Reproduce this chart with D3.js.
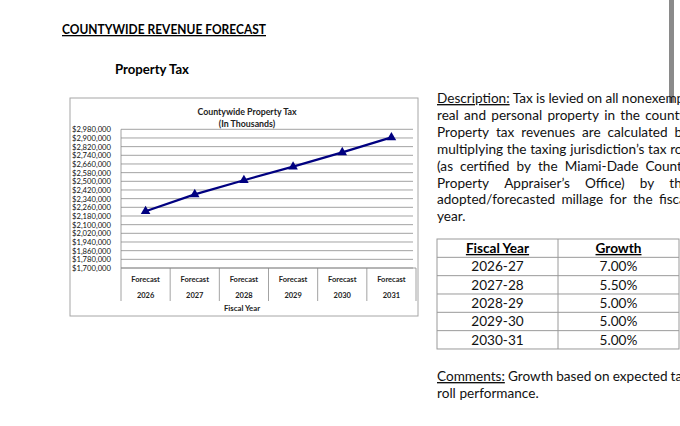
<!DOCTYPE html>
<html lang="en">
<head>
<meta charset="UTF-8">
<title>Countywide Revenue Forecast</title>
<script src="https://d3js.org/d3.v7.min.js"></script>
<style>
    html, body { margin: 0; padding: 0; background: #fff; overflow: hidden; }
    svg { display: block; font-family: Lato, 'Open Sans', sans-serif; }
</style>
</head>
<body>
<svg id="page" width="680" height="426"></svg>
<script>
    // chart data
    const categories = ["2026", "2027", "2028", "2029", "2030", "2031"];
    const categoryPrefix = "Forecast";
    const propertyTax = [2223000, 2379000, 2510000, 2635000, 2767000, 2905000];
    const yTicks = [1700000, 1780000, 1860000, 1940000, 2020000, 2100000, 2180000, 2260000,
                    2340000, 2420000, 2500000, 2580000, 2660000, 2740000, 2820000, 2900000, 2980000];

    // growth table
    const fiscalYears = ["2026-27", "2027-28", "2028-29", "2029-30", "2030-31"];
    const growthRates = ["7.00%", "5.50%", "5.00%", "5.00%", "5.00%"];

    // text blocks
    const descriptionLines = [
        "Description: Tax is levied on all nonexempt",
        "real and personal property in the county.",
        "Property tax revenues are calculated by",
        "multiplying the taxing jurisdiction\u2019s tax roll",
        "(as certified by the Miami-Dade County",
        "Property Appraiser\u2019s Office) by the",
        "adopted/forecasted millage for the fiscal",
        "year."
    ];
    const commentLines = ["Comments: Growth based on expected tax", "roll performance."];

    const svg = d3.select("#page");

    // page decorations
    svg.append("rect").attr("x", 669).attr("y", 0).attr("width", 5).attr("height", 103).attr("fill", "#8a8a8a");

    svg.append("text")
        .attr("x", 62).attr("y", 34)
        .attr("font-size", 13).attr("font-weight", "bold")
        .attr("text-decoration", "underline")
        .attr("textLength", 204).attr("lengthAdjust", "spacingAndGlyphs")
        .text("COUNTYWIDE REVENUE FORECAST");

    svg.append("text")
        .attr("x", 115).attr("y", 74)
        .attr("font-size", 13).attr("font-weight", "bold")
        .attr("textLength", 74).attr("lengthAdjust", "spacingAndGlyphs")
        .text("Property Tax");

    // ---- chart box ----
    const box = { x: 70, y: 98, w: 348, h: 218 };
    svg.append("rect")
        .attr("x", box.x).attr("y", box.y).attr("width", box.w).attr("height", box.h)
        .attr("fill", "#fff").attr("stroke", "#a6a6a6").attr("stroke-width", 1);

    const plot = { left: 121, right: 416, top: 129.3, bottom: 268 };

    const x = d3.scaleBand().domain(categories).range([plot.left, plot.right]);
    const y = d3.scaleLinear().domain([yTicks[0], yTicks[yTicks.length - 1]]).range([plot.bottom, plot.top]);

    // gridlines
    svg.append("g").selectAll("line")
        .data(yTicks)
        .enter().append("line")
        .attr("x1", plot.left).attr("x2", plot.right - 3)
        .attr("y1", d => y(d)).attr("y2", d => y(d))
        .attr("stroke", "#8c8c8c").attr("stroke-width", 0.8);

    // y axis line
    svg.append("line")
        .attr("x1", plot.left).attr("x2", plot.left)
        .attr("y1", plot.top).attr("y2", plot.bottom)
        .attr("stroke", "#8c8c8c").attr("stroke-width", 0.8);

    // y labels
    const fmt = d3.format("$,");
    svg.append("g").selectAll("text")
        .data(yTicks)
        .enter().append("text")
        .attr("x", 111).attr("y", d => y(d))
        .attr("text-anchor", "end").attr("dominant-baseline", "central")
        .attr("font-size", 8.2).attr("fill", "#111")
        .attr("textLength", 39).attr("lengthAdjust", "spacingAndGlyphs")
        .text(d => fmt(d));

    // category axis: boundary lines and labels
    const bounds = categories.map(d => x(d)).concat([plot.right]);
    svg.append("g").selectAll("line")
        .data(bounds)
        .enter().append("line")
        .attr("x1", d => d).attr("x2", d => d)
        .attr("y1", plot.bottom).attr("y2", 301)
        .attr("stroke", "#8c8c8c").attr("stroke-width", 0.8);
    svg.append("line")
        .attr("x1", plot.left).attr("x2", plot.right)
        .attr("y1", plot.bottom).attr("y2", plot.bottom)
        .attr("stroke", "#8c8c8c").attr("stroke-width", 0.8);

    const catG = svg.append("g").attr("font-size", 7.5).attr("font-weight", "bold").attr("text-anchor", "middle").attr("fill", "#222");
    catG.selectAll(".pre")
        .data(categories)
        .enter().append("text")
        .attr("x", d => x(d) + x.bandwidth() / 2).attr("y", 282)
        .text(categoryPrefix);
    catG.selectAll(".yr")
        .data(categories)
        .enter().append("text")
        .attr("x", d => x(d) + x.bandwidth() / 2).attr("y", 298)
        .text(d => d);

    svg.append("text")
        .attr("x", 242).attr("y", 311)
        .attr("text-anchor", "middle").attr("font-size", 7.8).attr("font-weight", "bold").attr("fill", "#222")
        .text("Fiscal Year");

    // chart title
    const titleG = svg.append("g").attr("font-size", 8.8).attr("font-weight", "bold").attr("text-anchor", "middle").attr("fill", "#222");
    titleG.append("text").attr("x", 247).attr("y", 115).text("Countywide Property Tax");
    titleG.append("text").attr("x", 247).attr("y", 127).text("(In Thousands)");

    // series line
    const pts = categories.map((c, i) => [x(c) + x.bandwidth() / 2, y(propertyTax[i])]);
    svg.append("path")
        .attr("d", d3.line()(pts))
        .attr("fill", "none").attr("stroke", "#000080").attr("stroke-width", 2.2);
    svg.append("g").selectAll("path")
        .data(pts)
        .enter().append("path")
        .attr("d", d3.symbol(d3.symbolTriangle, 40)())
        .attr("transform", d => `translate(${d[0]},${d[1]})`)
        .attr("fill", "#000080");

    // ---- justified text helper ----
    function justifiedBlock(lines, x0, width, baseline0, step, justifyLast, underlineFirst) {
        const g = svg.append("g").attr("font-size", 13.6).attr("fill", "#111");
        lines.forEach((line, li) => {
            const words = line.split(" ");
            const yb = baseline0 + li * step;
            const nodes = words.map((w, wi) => {
                const t = g.append("text").attr("y", yb).text(w);
                if (li === 0 && wi === 0 && underlineFirst) t.attr("text-decoration", "underline");
                return t;
            });
            const widths = nodes.map(n => n.node().getComputedTextLength());
            const total = d3.sum(widths);
            const justify = (li < lines.length - 1 || justifyLast) && words.length > 1;
            const space = 3.6;
            const gap = justify ? (width - total) / (words.length - 1) : space;
            let cx = x0;
            nodes.forEach((n, i) => {
                n.attr("x", cx);
                cx += widths[i] + gap;
            });
        });
    }

    justifiedBlock(descriptionLines, 437, 252, 103, 16.9, false, true);
    justifiedBlock(commentLines, 437, 252, 381, 16.5, false, true);

    // ---- growth table ----
    const tbl = { left: 437, mid: 558, right: 679, top: 239, rowH: 18.33 };
    const nRows = fiscalYears.length + 1;
    const tg = svg.append("g");
    tg.append("rect")
        .attr("x", tbl.left).attr("y", tbl.top)
        .attr("width", tbl.right - tbl.left).attr("height", nRows * tbl.rowH)
        .attr("fill", "none").attr("stroke", "#9a9a9a").attr("stroke-width", 1);
    tg.append("line")
        .attr("x1", tbl.mid).attr("x2", tbl.mid)
        .attr("y1", tbl.top).attr("y2", tbl.top + nRows * tbl.rowH)
        .attr("stroke", "#9a9a9a");
    tg.selectAll(".rowline")
        .data(d3.range(1, nRows))
        .enter().append("line")
        .attr("x1", tbl.left).attr("x2", tbl.right)
        .attr("y1", d => tbl.top + d * tbl.rowH).attr("y2", d => tbl.top + d * tbl.rowH)
        .attr("stroke", "#9a9a9a");

    const c1 = (tbl.left + tbl.mid) / 2, c2 = (tbl.mid + tbl.right) / 2;
    const rowY = i => tbl.top + (i + 0.5) * tbl.rowH + 4.8;
    tg.append("text").attr("x", c1).attr("y", rowY(0))
        .attr("text-anchor", "middle").attr("font-size", 13.6).attr("font-weight", "bold")
        .attr("text-decoration", "underline").text("Fiscal Year");
    tg.append("text").attr("x", c2).attr("y", rowY(0))
        .attr("text-anchor", "middle").attr("font-size", 13.6).attr("font-weight", "bold")
        .attr("text-decoration", "underline").text("Growth");
    tg.selectAll(".fy")
        .data(fiscalYears)
        .enter().append("text")
        .attr("x", c1).attr("y", (d, i) => rowY(i + 1))
        .attr("text-anchor", "middle").attr("font-size", 13.6).attr("fill", "#111")
        .text(d => d);
    tg.selectAll(".gr")
        .data(growthRates)
        .enter().append("text")
        .attr("x", c2).attr("y", (d, i) => rowY(i + 1))
        .attr("text-anchor", "middle").attr("font-size", 13.6).attr("fill", "#111")
        .text(d => d);
</script>
</body>
</html>
